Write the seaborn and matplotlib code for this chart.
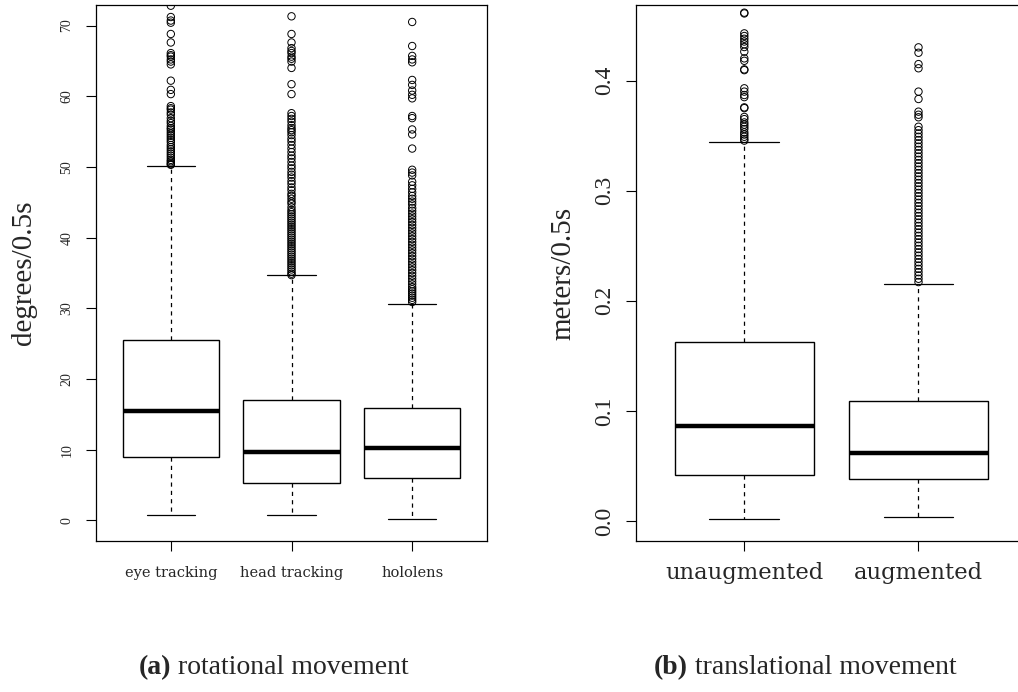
import numpy as np
import pandas as pd
import matplotlib
matplotlib.use("Agg")
import matplotlib.pyplot as plt
from matplotlib import font_manager as fm
import seaborn as sns

# ---------------- data ----------------
rot_categories = ["eye tracking", "head tracking", "hololens"]
rot_whislo = [0.71, 0.71, 0.28]
rot_q1 = [8.97, 5.33, 6.07]
rot_med = [15.42, 9.67, 10.27]
rot_q3 = [25.46, 17.07, 15.90]
rot_whishi = [50.20, 34.65, 30.60]
rot_out_eye = [72.8, 71.2, 70.7, 70.4, 68.8, 67.6, 66.1, 65.8, 65.6, 65.2, 64.9, 64.5,
               62.2, 60.9, 60.3, 58.6, 58.3, 58.1, 57.7, 57.4, 56.9, 56.5, 56.2, 55.8,
               55.5, 55.3, 55.0, 54.7, 54.4, 54.1, 53.8, 53.5, 53.1, 52.8, 52.5, 52.2,
               51.9, 51.6, 51.3, 51.0, 50.8, 50.6, 50.4, 50.3]
rot_out_head = [71.3, 68.8, 67.6, 66.8, 66.4, 66.1, 65.6, 65.3, 64.9, 64.0, 61.7, 60.3,
                57.6, 57.2, 56.8, 56.4, 55.9, 55.5, 55.2, 54.9, 54.5, 54.0, 53.6, 53.1,
                52.6, 52.1, 51.6, 51.2, 50.7, 50.2, 49.8, 49.3, 48.9, 48.5, 48.0, 47.6,
                47.1, 46.7, 46.2, 45.9, 45.5, 45.1, 44.8, 44.3, 43.9, 43.6, 43.3, 43.0,
                42.7, 42.4, 42.1, 41.8, 41.5, 41.2, 40.9, 40.6, 40.3, 40.0, 39.7, 39.4,
                39.1, 38.8, 38.5, 38.2, 37.9, 37.6, 37.3, 37.0, 36.7, 36.4, 36.1, 35.8,
                35.5, 35.2, 34.9, 34.7]
rot_out_holo = [70.5, 67.1, 65.7, 65.2, 64.8, 62.3, 61.6, 60.8, 60.2, 59.7, 57.2, 56.9,
                55.3, 54.6, 52.6, 49.6, 49.2, 48.8, 47.9, 47.4, 46.9, 46.4, 45.9, 45.5,
                45.1, 44.7, 44.2, 43.8, 43.4, 43.0, 42.6, 42.2, 41.8, 41.4, 41.0, 40.6,
                40.2, 39.8, 39.4, 39.0, 38.6, 38.2, 37.8, 37.4, 37.0, 36.6, 36.2, 35.8,
                35.4, 35.0, 34.6, 34.2, 33.8, 33.4, 33.0, 32.7, 32.4, 32.1, 31.8, 31.5,
                31.2, 30.9]

trans_categories = ["unaugmented", "augmented"]
trans_whislo = [0.0018, 0.0039]
trans_q1 = [0.0421, 0.0381]
trans_med = [0.0863, 0.0620]
trans_q3 = [0.1629, 0.1093]
trans_whishi = [0.3445, 0.2153]
trans_out_unaug = [0.4617, 0.4610, 0.4429, 0.4405, 0.4380, 0.4355, 0.4330, 0.4305,
                   0.4263, 0.4202, 0.4180, 0.4102, 0.4095, 0.3930, 0.3900, 0.3869,
                   0.3850, 0.3757, 0.3750, 0.3670, 0.3650, 0.3620, 0.3600, 0.3580,
                   0.3560, 0.3530, 0.3510, 0.3490, 0.3470, 0.3455]
trans_out_aug = [0.4302, 0.4253, 0.4150, 0.4112, 0.3900, 0.3833, 0.3718, 0.3690,
                 0.3667, 0.3581, 0.3550, 0.3520, 0.3490, 0.3460, 0.3430, 0.3400,
                 0.3370, 0.3340, 0.3310, 0.3280, 0.3250, 0.3220, 0.3190, 0.3160,
                 0.3130, 0.3100, 0.3070, 0.3040, 0.3010, 0.2980, 0.2950, 0.2920,
                 0.2890, 0.2860, 0.2830, 0.2800, 0.2770, 0.2740, 0.2710, 0.2680,
                 0.2650, 0.2620, 0.2590, 0.2560, 0.2530, 0.2500, 0.2470, 0.2440,
                 0.2410, 0.2380, 0.2350, 0.2320, 0.2290, 0.2260, 0.2230, 0.2200,
                 0.2170]

rot_yticks = [0, 10, 20, 30, 40, 50, 60, 70]
trans_yticks = [0.0, 0.1, 0.2, 0.3, 0.4]

# ---------------- fonts ----------------
for f in fm.findSystemFonts():
    if "Liberation" in f:
        try:
            fm.fontManager.addfont(f)
        except Exception:
            pass

def font_path(name, weight="normal"):
    try:
        return fm.findfont(fm.FontProperties(family=name, weight=weight),
                           fallback_to_default=False)
    except Exception:
        return None

SERIF_R = font_path("Liberation Serif")
SERIF_B = font_path("Liberation Serif", "bold")

def tprops(size, bold=False):
    p = SERIF_B if bold else SERIF_R
    if p:
        return fm.FontProperties(fname=p, size=size)
    return fm.FontProperties(family="serif", size=size,
                             weight="bold" if bold else "normal")

# ---------------- style ----------------
sns.set_theme(style="white")
plt.rcParams["font.family"] = ["Liberation Serif", "DejaVu Serif"]
plt.rcParams["lines.scale_dashes"] = False

W, H = 1018, 692
fig = plt.figure(figsize=(W / 100, H / 100), dpi=100)
fig.patch.set_facecolor("white")

def px_axes(l, t, r, b):
    return fig.add_axes([l / W, 1 - b / H, (r - l) / W, (b - t) / H])

ax1 = px_axes(96, 5, 487, 541)
ax2 = px_axes(636.3, 5.3, 1026.5, 540.7)


def summary_frame(cats, lo, q1, med, q3, hi):
    rows = []
    for c, a, b, m, d, e in zip(cats, lo, q1, med, q3, hi):
        for v in (a, b, m, d, e):
            rows.append((c, v))
    return pd.DataFrame(rows, columns=["cat", "val"])


def outlier_frame(cats, lists):
    rows = []
    for c, vals in zip(cats, lists):
        for v in vals:
            rows.append((c, v))
    return pd.DataFrame(rows, columns=["cat", "val"])


def draw_panel(ax, cats, lo, q1, med, q3, hi, outs, yticks, ylim, ylabel,
               ytick_fs, xtick_fs, ytick_pad, xtick_pad, label_x, fmt):
    sdf = summary_frame(cats, lo, q1, med, q3, hi)
    odf = outlier_frame(cats, outs)
    sns.boxplot(data=sdf, x="cat", y="val", order=cats, ax=ax, whis=(0, 100),
                width=0.8, color="white", linecolor="black", linewidth=1.0,
                showfliers=False,
                medianprops=dict(linewidth=3.2, color="black", solid_capstyle="butt"),
                whiskerprops=dict(linestyle=(0, (3, 3)), linewidth=0.9),
                capprops=dict(linewidth=0.9),
                boxprops=dict(linewidth=1.0))
    sns.stripplot(data=odf, x="cat", y="val", order=cats, ax=ax, jitter=False,
                  color="none", edgecolor="black", linewidth=0.7, size=5.3,
                  marker="o")
    ax.set_xlim(-0.62, len(cats) - 1 + 0.62)
    ax.set_ylim(*ylim)
    ax.set_yticks(yticks)
    ax.set_yticklabels([fmt % t for t in yticks], rotation=90, va="center",
                       fontproperties=tprops(ytick_fs))
    ax.set_xticks(range(len(cats)))
    ax.set_xticklabels(cats, fontsize=xtick_fs, family=["DejaVu Serif"])
    ax.set_xlabel("")
    ax.set_ylabel(ylabel, fontproperties=tprops(21), va="center")
    ax.yaxis.set_label_coords(label_x, 0.5)
    ax.tick_params(axis="both", direction="out", length=7.2, width=0.8,
                   color="black", left=True, bottom=True)
    ax.tick_params(axis="y", pad=ytick_pad)
    ax.tick_params(axis="x", pad=xtick_pad)
    for s in ax.spines.values():
        s.set_visible(True)
        s.set_color("black")
        s.set_linewidth(0.9)
    ax.grid(False)


draw_panel(ax1, rot_categories, rot_whislo, rot_q1, rot_med, rot_q3, rot_whishi,
           [rot_out_eye, rot_out_head, rot_out_holo], rot_yticks, (-2.9, 72.9),
           "degrees/0.5s", 10, 10.5, 9, 11, (24 - 96) / 391, "%d")
draw_panel(ax2, trans_categories, trans_whislo, trans_q1, trans_med, trans_q3,
           trans_whishi, [trans_out_unaug, trans_out_aug], trans_yticks,
           (-0.0179, 0.4684), "meters/0.5s", 17, 16.3, 8, 8, (563 - 636.3) / 390.2,
           "%.1f")


def caption(x_center_px, tag, rest):
    y = 1 - 668 / H
    r = fig.canvas.get_renderer()
    t1 = fig.text(0, y, tag, fontproperties=tprops(20, bold=True), va="center")
    t2 = fig.text(0, y, " " + rest, fontproperties=tprops(20), va="center")
    w1 = t1.get_window_extent(r).width
    w2 = t2.get_window_extent(r).width
    x0 = x_center_px - (w1 + w2) / 2
    t1.set_x(x0 / W)
    t2.set_x((x0 + w1) / W)


caption(274, "(a)", "rotational movement")
caption(805.5, "(b)", "translational movement")

fig.savefig("out.png", dpi=100, facecolor="white")
